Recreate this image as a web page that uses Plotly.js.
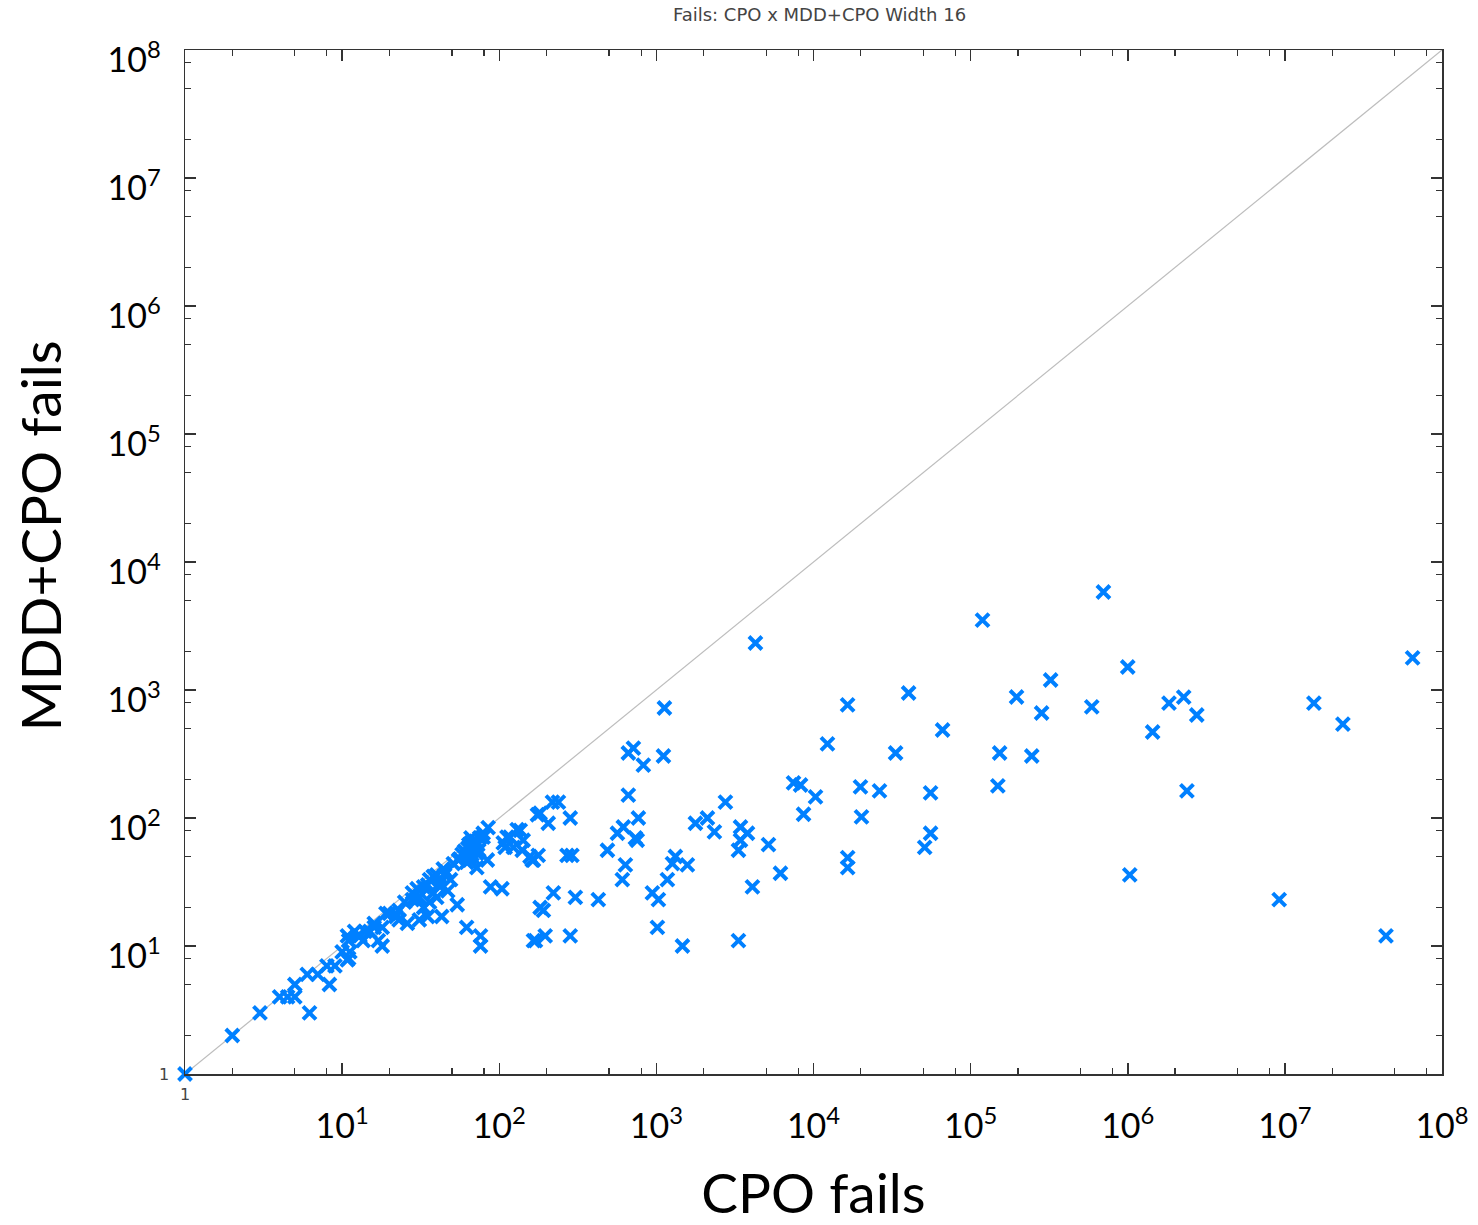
<!DOCTYPE html>
<html>
<head>
<meta charset="utf-8">
<script src="https://cdn.plot.ly/plotly-3.0.1.min.js"></script>
<style>html,body{margin:0;padding:0;background:#fff;}#chart{width:1478px;height:1225px;}</style>
</head>
<body>
<div id="chart"></div>
<script>
// CPO fails (x) vs MDD+CPO fails (y)
const cpoFails = [
  1, 2, 3, 4, 4.5, 5, 5, 6, 7, 6.2, 8.3, 8, 9, 10, 11, 11, 12.6, 13.6,
  10.8, 11.2, 10.8, 12, 13, 14, 15, 16, 17, 16, 18, 18, 19, 20, 22, 22, 23, 23, 26, 28, 30, 31, 33, 31, 35, 36, 36, 38, 38, 42, 42, 40, 43, 47, 49, 51, 54, 62, 65, 68, 72, 76, 76, 79, 85, 64, 65, 72, 79, 84, 88, 104,
  60, 62, 63, 66, 67, 70, 71, 74, 75, 62, 58, 56, 66, 69, 73, 44, 46, 28, 25, 33, 40, 35, 30, 45, 55,
  106, 109, 112, 117, 123, 130, 136, 140, 142, 157, 162, 165, 177, 175, 182, 205, 218, 238, 283, 270, 290, 170, 165, 196, 182, 191, 221, 283, 305, 427,
  488, 565, 616, 635, 607, 663, 663, 714, 826, 735, 755, 768, 943, 1030, 1015, 1125, 1109,
  1175, 1265, 1321, 1575, 1465, 1772, 2113, 2340, 2750, 3430, 3800, 3430, 3330, 4270, 4085, 5170, 6160, 3330, 7460, 8270, 10300, 8640,
  12270, 16480, 16500, 16500, 19900, 20200, 26300, 33300, 40300, 51000, 55600, 55600, 66300,
  119000, 149000, 153000, 196000, 245000, 283000, 323000, 590000, 700000, 1000000, 1030000,
  1440000, 1830000, 2270000, 2380000, 2750000, 9200000, 15300000, 23400000, 44000000, 65000000
];
const mddCpoFails = [
  1, 2, 3, 4, 4, 4, 5, 6, 6, 3, 5, 7, 7, 9, 8, 11, 12, 11,
  12, 9, 7.8, 13, 12, 13, 13, 15, 11, 14, 14, 10, 18, 18, 17, 18, 19, 16, 15, 23, 23, 24, 20, 16, 17, 22, 33, 35, 26, 29, 31, 24, 17, 27, 33, 44, 21, 14, 50, 59, 41, 12, 10, 71, 84, 62, 47, 53, 76, 47, 29, 28,
  55, 50, 58, 64, 52, 60, 66, 56, 70, 45, 52, 48, 70, 48, 62, 40, 38, 26, 22, 29, 36, 30, 28, 36, 47,
  64, 59, 71, 71, 59, 81, 80, 56, 67, 50, 47, 47, 51, 106, 109, 91, 133, 133, 100, 51, 51, 11, 11, 12, 20, 19, 26, 12, 24, 23,
  56, 76, 85, 43, 33, 151, 322, 352, 259, 70, 67, 100, 26, 23, 14, 723, 305,
  33, 44, 50, 43, 10, 91, 100, 78, 133, 85, 76, 67, 56, 2330, 29, 62, 37, 11, 188, 181, 146, 107,
  379, 764, 49, 41, 175, 102, 163, 322, 948, 59, 157, 76, 487,
  3520, 178, 322, 882, 305, 661, 1197, 737, 5830, 1513, 36,
  470, 790, 880, 163, 638, 23, 790, 542, 12, 1780
];
const diagX = [1, 100000000];
const diagY = [1, 100000000];
const majorTicks = [10, 100, 1000, 10000, 100000, 1000000, 10000000, 100000000];
const majorLabels = ["10<sup>1</sup>", "10<sup>2</sup>", "10<sup>3</sup>", "10<sup>4</sup>", "10<sup>5</sup>", "10<sup>6</sup>", "10<sup>7</sup>", "10<sup>8</sup>"];
const minorMultipliers = [2, 5, 8];

const minorTicks = [];
for (let d = 0; d < 8; d++) {
  for (const m of minorMultipliers) minorTicks.push(m * Math.pow(10, d));
}

const FONT = "Lato, 'Open Sans', sans-serif";

const axisCommon = {
  type: "log",
  range: [0, 8],
  showgrid: false,
  zeroline: false,
  showline: true,
  linecolor: "#333",
  linewidth: 1.5,
  mirror: "allticks",
  ticks: "inside",
  ticklen: 11,
  tickwidth: 1.5,
  tickcolor: "#333",
  tickmode: "array",
  tickvals: majorTicks,
  ticktext: majorLabels,
  tickfont: {family: FONT, size: 34, color: "#000"},
  minor: {tickmode: "array", tickvals: minorTicks, ticks: "inside", ticklen: 6, tickwidth: 1.2, tickcolor: "#333", showgrid: false}
};

const data = [
  {x: diagX, y: diagY, mode: "lines", type: "scatter", line: {color: "#bdbdbd", width: 1.2}, hoverinfo: "skip", showlegend: false},
  {x: cpoFails, y: mddCpoFails, mode: "markers", type: "scatter", cliponaxis: false,
   marker: {symbol: "x-thin-open", size: 13, color: "rgb(0,128,255)", line: {color: "rgb(0,128,255)", width: 4}},
   showlegend: false}
];

const layout = {
  width: 1478, height: 1225,
  margin: {l: 185, r: 36, t: 50, b: 151},
  paper_bgcolor: "#fff", plot_bgcolor: "#fff",
  title: {text: "Fails: CPO x MDD+CPO Width 16", font: {family: "DejaVu Sans", size: 18, color: "#444"}, x: 0.5545, xanchor: "center", y: 0.988, yanchor: "middle"},
  xaxis: Object.assign({}, axisCommon, {
    title: {text: "CPO fails", font: {family: FONT, size: 55, color: "#000"}, standoff: 34},
    ticklabelstandoff: 22
  }),
  yaxis: Object.assign({}, axisCommon, {
    ticklabelstandoff: 16,
    ticklabelshift: 10
  }),
  annotations: [
    {xref: "paper", yref: "paper", x: -0.1154, y: 0.526, text: "MDD+CPO fails", textangle: -90, showarrow: false, xanchor: "center", yanchor: "middle", font: {family: FONT, size: 55, color: "#000"}},
    {xref: "paper", yref: "paper", x: 0, y: 0, text: "1", showarrow: false, xanchor: "center", yanchor: "top", yshift: -9, font: {family: "DejaVu Sans", size: 16, color: "#444"}},
    {xref: "paper", yref: "paper", x: 0, y: 0, text: "1", showarrow: false, xanchor: "right", yanchor: "middle", xshift: -14, font: {family: "DejaVu Sans", size: 16, color: "#444"}}
  ]
};

Plotly.newPlot("chart", data, layout, {displayModeBar: false, staticPlot: true});
</script>
</body>
</html>
